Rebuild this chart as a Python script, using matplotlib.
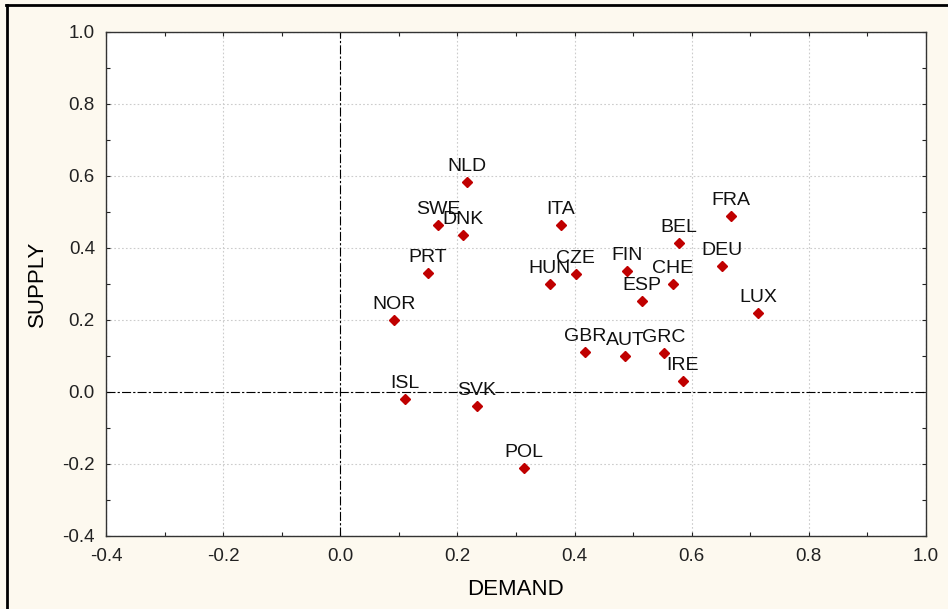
import matplotlib
matplotlib.use('Agg')
import matplotlib.pyplot as plt
from matplotlib.lines import Line2D
import numpy as np

plt.rcParams['font.family'] = ['Liberation Sans', 'DejaVu Sans']

countries = ['NLD', 'SWE', 'DNK', 'ITA', 'PRT', 'HUN', 'CZE', 'FIN', 'ESP', 'CHE', 'BEL',
             'FRA', 'DEU', 'LUX', 'NOR', 'GBR', 'AUT', 'GRC', 'IRE', 'ISL', 'SVK', 'POL']
demand = [0.216, 0.167, 0.210, 0.377, 0.150, 0.358, 0.402, 0.490, 0.515, 0.568, 0.578,
          0.667, 0.652, 0.713, 0.092, 0.418, 0.486, 0.553, 0.585, 0.110, 0.233, 0.314]
supply = [0.583, 0.464, 0.436, 0.464, 0.331, 0.300, 0.328, 0.336, 0.253, 0.300, 0.414,
          0.489, 0.350, 0.219, 0.200, 0.111, 0.100, 0.108, 0.031, -0.019, -0.039, -0.211]

xticks = np.round(np.arange(-0.4, 1.01, 0.2), 1)
yticks = np.round(np.arange(-0.4, 1.01, 0.2), 1)

bg = '#fdf9ef'
fig = plt.figure(figsize=(9.48, 6.09), dpi=100, facecolor=bg)
ax = fig.add_axes([0.1118, 0.1199, 0.865, 0.8276])
ax.set_facecolor('white')

ax.set_xlim(-0.4, 1.0)
ax.set_ylim(-0.4, 1.0)
ax.set_xticks(xticks)
ax.set_yticks(yticks)
ax.set_xticklabels([f'{v:.1f}' for v in xticks])
ax.set_yticklabels([f'{v:.1f}' for v in yticks])
ax.set_xticks(np.arange(-0.3, 1.0, 0.2), minor=True)
ax.set_yticks(np.arange(-0.3, 1.0, 0.2), minor=True)
ax.tick_params(which='both', direction='in', top=True, right=True, length=3,
               width=0.8, labelsize=13.5, colors='#222222')
ax.tick_params(axis='x', pad=9)
ax.tick_params(axis='y', pad=8)
for s in ax.spines.values():
    s.set_linewidth(1.0)
    s.set_color('#333333')

ax.grid(True, which='major', linestyle=(0, (1.5, 2)), color='#cccccc', linewidth=0.8)
ax.axhline(0, color='black', linewidth=0.8, linestyle=(0, (8, 2, 2, 2)))
ax.axvline(0, color='black', linewidth=0.8, linestyle=(0, (8, 2, 2, 2)))

ax.plot(demand, supply, 'D', color='#c00000', markersize=5.5, linestyle='none', zorder=3)
for name, x, y in zip(countries, demand, supply):
    ax.annotate(name, (x, y), xytext=(0, 8), textcoords='offset points',
                ha='center', va='baseline', fontsize=14, color='#111111')

ax.set_xlabel('DEMAND', fontsize=16, labelpad=10)
ax.set_ylabel('SUPPLY', fontsize=16, labelpad=10)

# frame around the figure (left and top edges visible)
fig.add_artist(Line2D([0.0075, 0.0075], [0, 0.992], transform=fig.transFigure,
                      color='black', linewidth=2))
fig.add_artist(Line2D([0.0065, 1.0], [0.992, 0.992], transform=fig.transFigure,
                      color='black', linewidth=2))

fig.savefig('out.png', dpi=100, facecolor=bg)
